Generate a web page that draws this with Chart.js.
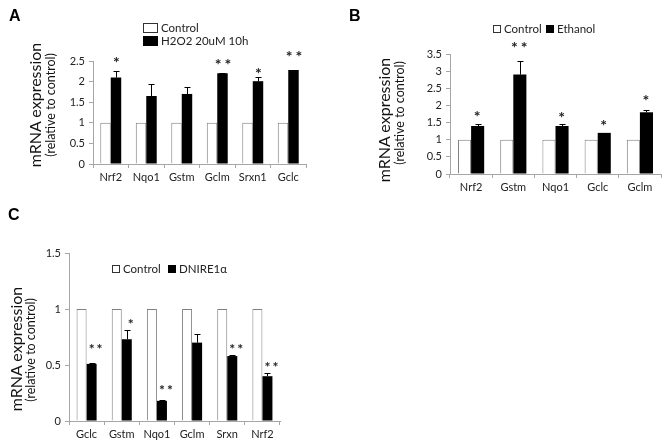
<!DOCTYPE html>
<html><head><meta charset="utf-8">
<script src="https://cdn.jsdelivr.net/npm/chart.js@4.4.0/dist/chart.umd.min.js"></script>
<style>
body{margin:0;background:#fff;width:670px;height:445px;position:relative;overflow:hidden;font-family:Lato,sans-serif;}
canvas{position:absolute;}
.letter{position:absolute;font-family:"Liberation Sans",Arial,sans-serif;font-weight:bold;font-size:16px;color:#000;line-height:1}
.rot{position:absolute;transform:translate(-50%,-50%) rotate(-90deg);white-space:nowrap;line-height:1;color:#111}
.big{font-size:16px}
.small{font-size:12.5px}
.li{position:absolute;font-size:11.5px;color:#222;white-space:nowrap;line-height:1;display:flex;align-items:center}
.bx{display:inline-block;box-sizing:border-box;margin-right:3px}
</style></head>
<body>
<canvas id="cA" width="335" height="200" style="left:0;top:0"></canvas>
<canvas id="cB" width="335" height="200" style="left:335px;top:0"></canvas>
<canvas id="cC" width="335" height="245" style="left:0;top:200px"></canvas>

<div class="letter" style="left:9px;top:8px">A</div>
<div class="letter" style="left:349px;top:8px">B</div>
<div class="letter" style="left:8px;top:207px">C</div>

<div class="rot big" style="left:35px;top:105px">mRNA expression</div>
<div class="rot small" style="left:51px;top:105px">(relative to control)</div>
<div class="rot big" style="left:384px;top:120px">mRNA expression</div>
<div class="rot small" style="left:400px;top:113px">(relative to control)</div>
<div class="rot big" style="left:16px;top:349px">mRNA expression</div>
<div class="rot small" style="left:31px;top:350px">(relative to control)</div>

<div id="legends"></div>

<script>
// ---------- data ----------
const seriesA = ['Control', 'H2O2 20uM 10h'];
const genesA = ['Nrf2', 'Nqo1', 'Gstm', 'Gclm', 'Srxn1', 'Gclc'];
const controlA = [1, 1, 1, 1, 1, 1];
const treatA = [2.10, 1.65, 1.70, 2.20, 2.01, 2.28];
const errTopA = [2.25, 1.95, 1.86, 2.21, 2.10, 2.29];
const starsA = ['*', '', '', '**', '*', '**'];
const starLevelA = [2.55, 0, 0, 2.50, 2.28, 2.69];
const yTicksA = [0, 0.5, 1, 1.5, 2, 2.5];

const seriesB = ['Control', 'Ethanol'];
const genesB = ['Nrf2', 'Gstm', 'Nqo1', 'Gclc', 'Gclm'];
const controlB = [1, 1, 1, 1, 1];
const treatB = [1.40, 2.90, 1.40, 1.20, 1.80];
const errTopB = [1.45, 3.30, 1.45, 1.20, 1.88];
const starsB = ['*', '**', '*', '*', '*'];
const starLevelB = [1.79, 3.79, 1.76, 1.53, 2.26];
const yTicksB = [0, 0.5, 1, 1.5, 2, 2.5, 3, 3.5];

const seriesC = ['Control', 'DNIRE1\u03b1'];
const genesC = ['Gclc', 'Gstm', 'Nqo1', 'Gclm', 'Srxn', 'Nrf2'];
const controlC = [1, 1, 1, 1, 1, 1];
const treatC = [0.51, 0.73, 0.18, 0.70, 0.58, 0.40];
const errTopC = [0.52, 0.81, 0.185, 0.78, 0.585, 0.43];
const starsC = ['**', '*', '**', '', '**', '**'];
const starLevelC = [0.67, 0.895, 0.30, 0, 0.67, 0.51];
const yTicksC = [0, 0.5, 1, 1.5];

// ---------- drawing ----------
const AX = '#a6a6a6';
const annot = {
  id: 'annot',
  afterDatasetsDraw(chart, args, o) {
    const ctx = chart.ctx, y = chart.scales.y;
    const meta = chart.getDatasetMeta(1);
    const vals = chart.data.datasets[1].data;
    ctx.save();
    meta.data.forEach((bar, i) => {
      const e = o.err[i];
      if (e != null && e > vals[i]) {
        const yt = Math.round(y.getPixelForValue(e)) + 0.5;
        const yb = y.getPixelForValue(vals[i]);
        const xc = Math.round(bar.x) + 0.5;
        ctx.strokeStyle = '#000'; ctx.lineWidth = 1;
        ctx.beginPath();
        ctx.moveTo(xc, yb); ctx.lineTo(xc, yt);
        ctx.moveTo(xc - 3, yt); ctx.lineTo(xc + 3, yt);
        ctx.stroke();
      }
      const s = o.stars[i];
      if (s) {
        ctx.font = 'bold ' + o.fs + 'px Lato, sans-serif';
        ctx.fillStyle = '#222';
        ctx.textAlign = 'center';
        ctx.textBaseline = 'alphabetic';
        try { ctx.letterSpacing = o.ls + 'px'; } catch (err) {}
        ctx.fillText(s, bar.x + o.dx, y.getPixelForValue(o.level[i]) + o.fs * 0.57);
      }
    });
    ctx.restore();
  }
};

function makeChart(id, genes, names, ctrl, treat, err, stars, level, yTicks, cfg) {
  return new Chart(document.getElementById(id), {
    type: 'bar',
    data: {
      labels: genes,
      datasets: [
        { label: names[0], data: ctrl, backgroundColor: '#fff', borderColor: '#7f7f7f', borderWidth: 1,
          categoryPercentage: cfg.cat, barPercentage: 1 },
        { label: names[1], data: treat, backgroundColor: '#000', borderColor: '#000', borderWidth: 0,
          categoryPercentage: cfg.cat, barPercentage: 1 }
      ]
    },
    options: {
      responsive: false, animation: false, devicePixelRatio: 1,
      layout: { padding: cfg.pad },
      plugins: {
        legend: { display: false }, tooltip: { enabled: false },
        annot: { err: err, stars: stars, level: level, fs: cfg.fs, dx: cfg.dx, ls: cfg.ls }
      },
      scales: {
        x: {
          grid: { display: true, drawOnChartArea: false, drawTicks: true, tickLength: 4, color: AX, offset: true },
          border: { color: AX },
          ticks: { font: { family: 'Lato', size: 11 }, color: '#222', padding: 3, maxRotation: 0 },
          afterFit(s) { s.height = cfg.xh; }
        },
        y: {
          min: 0, max: yTicks[yTicks.length - 1],
          grid: { drawOnChartArea: false, drawTicks: true, tickLength: 4, color: AX },
          border: { color: AX },
          ticks: { font: { family: 'Lato', size: 11 }, color: '#222', padding: 4,
                   callback: v => String(v) },
          afterBuildTicks(s) { s.ticks = yTicks.map(v => ({ value: v })); },
          afterFit(s) { s.width = cfg.yw; }
        }
      }
    },
    plugins: [annot]
  });
}

makeChart('cA', genesA, seriesA, controlA, treatA, errTopA, starsA, starLevelA, yTicksA,
  { pad: { left: 0, top: 61, right: 29, bottom: 6 }, yw: 93, xh: 30, cat: 0.59, fs: 16, dx: 2, ls: 3 });
makeChart('cB', genesB, seriesB, controlB, treatB, errTopB, starsB, starLevelB, yTicksB,
  { pad: { left: 0, top: 54, right: 9, bottom: 0 }, yw: 115, xh: 26, cat: 0.62, fs: 16, dx: 1, ls: 3 });
makeChart('cC', genesC, seriesC, controlC, treatC, errTopC, starsC, starLevelC, yTicksC,
  { pad: { left: 0, top: 53, right: 55, bottom: 0 }, yw: 69, xh: 24, cat: 0.57, fs: 14, dx: 5, ls: 2 });

// ---------- legends (HTML) ----------
const L = document.getElementById('legends');
function legItem(x, y, w, h, fill, border, text) {
  const d = document.createElement('div');
  d.className = 'li';
  d.style.left = x + 'px'; d.style.top = y + 'px';
  const b = document.createElement('span');
  b.className = 'bx';
  b.style.width = w + 'px'; b.style.height = h + 'px';
  b.style.background = fill; b.style.border = '1px solid ' + border;
  d.appendChild(b);
  d.appendChild(document.createTextNode(text));
  L.appendChild(d);
}
legItem(143, 22, 15, 10, '#fff', '#333', seriesA[0]);
legItem(143, 35, 15, 10, '#000', '#000', seriesA[1]);
legItem(493, 23, 8, 8, '#fff', '#333', seriesB[0]);
legItem(546, 23, 8, 8, '#000', '#000', seriesB[1]);
legItem(112, 263, 8, 8, '#fff', '#333', seriesC[0]);
legItem(168, 263, 8, 8, '#000', '#000', seriesC[1]);
</script>
</body></html>
